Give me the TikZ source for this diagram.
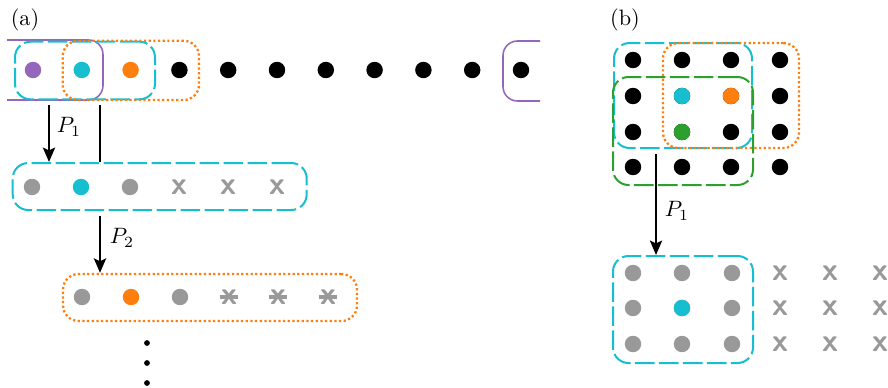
\documentclass[tikz,border=0pt]{standalone}
\usetikzlibrary{arrows.meta}
\definecolor{tcyan}{RGB}{23,190,207}
\definecolor{torange}{RGB}{255,127,14}
\definecolor{tgreen}{RGB}{44,160,44}
\definecolor{tpurple}{RGB}{148,103,189}
\definecolor{tgray}{RGB}{153,153,153}
\begin{document}
\begin{tikzpicture}[x=0.45pt,y=-0.45pt,
  dot/.style={circle,inner sep=0,minimum size=7.4pt,fill=#1},
  dot/.default=black,
  smalldot/.style={circle,inner sep=0,minimum size=2.6pt,fill=black},
  xmark/.style={text=tgray,font=\sffamily\bfseries\Large,inner sep=0},
  grp/.style 2 args={rectangle,rounded corners=7pt,line width=0.9pt,inner sep=0,
    minimum width=#1*0.45pt,minimum height=#2*0.45pt},
  dashbox/.style={draw=#1,dash pattern=on 8.8pt off 2pt},
  dotbox/.style={draw=torange,line width=1.05pt,dash pattern=on 1pt off 1.1pt},
  flow/.style={line width=0.9pt,-{Stealth[length=6.5pt,width=5.5pt,inset=1.3pt]}},
  link/.style={line width=0.9pt},
  wrap/.style={draw=tpurple,line width=0.7pt,rounded corners=6.5pt},
]
\useasboundingbox (0,0) rectangle (888,387);

% ---------------- (a) one-dimensional chain ----------------
\node (la) at (25,20) {(a)};

% periodic boundary markers
\draw[wrap] (7,40) -- (103,40) -- (103,100) -- (7,100);
\draw[wrap] (540,41) -- (503,41) -- (503,101) -- (540,101);

% first row of sites
\node[dot=tpurple] (a1) at (33,70) {};
\node[dot=tcyan]   (a2) at (81.8,70) {};
\node[dot=torange] (a3) at (130.6,70) {};
\foreach \i in {4,...,11}
  \node[dot] (a\i) at ({33+48.8*(\i-1)},70) {};

% groups on the first row
\node[grp={140}{57.6},dashbox=tcyan] (r1c) at (85,70.5) {};
\node[grp={136.3}{59.3},dotbox] (r1o) at (130.9,70.4) {};

% second row
\node[dot=tgray] (b1) at (32,187) {};
\node[dot=tcyan] (b2) at (81,187) {};
\node[dot=tgray] (b3) at (130,187) {};
\foreach \i/\x in {4/179,5/228,6/277}
  \node[xmark] (b\i) at (\x,187) {x};
\node[grp={294}{47},dashbox=tcyan] (r2) at (159.7,186.5) {};

% third row
\node[dot=tgray]   (c1) at (82,297) {};
\node[dot=torange] (c2) at (131,297) {};
\node[dot=tgray]   (c3) at (180,297) {};
\foreach \i/\x in {4/229,5/278,6/328}{
  \node[xmark] (c\i) at (\x,297) {x};
  \draw[tgray,line width=1.4pt] ([xshift=-0.4pt]c\i.west) -- ([xshift=0.4pt]c\i.east);
}
\node[grp={294}{47},dotbox] (r3) at (210,297.5) {};

% continuation
\node[smalldot] (v1) at (147,343) {};
\node[smalldot] (v2) at (147,363) {};
\node[smalldot] (v3) at (147,383) {};

% steps between the rows
\coordinate (colA) at (49,0);
\coordinate (colB) at (100,0);
\draw[flow,shorten <=2.2pt] (r1c.south -| colA) -- (r2.north -| colA);
\draw[link,shorten <=2.2pt] (r1c.south -| colB) -- (r2.north -| colB);
\draw[flow,shorten <=2.2pt] (r2.south -| colB) -- (r3.north -| colB);
\node (p1a) at (69,127) {$P_1$};
\node (p2a) at (122,238) {$P_2$};

% ---------------- (b) two-dimensional lattice ----------------
\node (lb) at (625,20) {(b)};

\foreach \r/\y in {1/60,2/96,3/132,4/167}
  \foreach \c/\x in {1/633,2/682,3/731,4/780}
    \node[dot] (g\r\c) at (\x,\y) {};
\node[dot=tcyan]   at (g22) {};
\node[dot=torange] at (g23) {};
\node[dot=tgreen]  at (g32) {};

\node[grp={138}{105},dashbox=tcyan] (bc) at (683,95.5) {};
\node[grp={136}{105},dotbox] (bo) at (731,95.5) {};
\node[grp={140}{108},dashbox=tgreen] (bg) at (683,131) {};

% reduced block
\foreach \r/\y in {1/273,2/308,3/344}{
  \foreach \c/\x in {1/633,2/682,3/732}
    \node[dot=tgray] (h\r\c) at (\x,\y) {};
  \foreach \c/\x in {4/780,5/830,6/880}
    \node[xmark] (h\r\c) at (\x,\y) {x};
}
\node[dot=tcyan] at (h22) {};
\node[grp={140}{107},dashbox=tcyan] (bq) at (683,309.5) {};

\coordinate (colC) at (656,0);
\draw[flow,shorten <=2.2pt] (bc.south -| colC) -- (bq.north -| colC);
\node (p1b) at (677,211) {$P_1$};
\end{tikzpicture}
\end{document}
